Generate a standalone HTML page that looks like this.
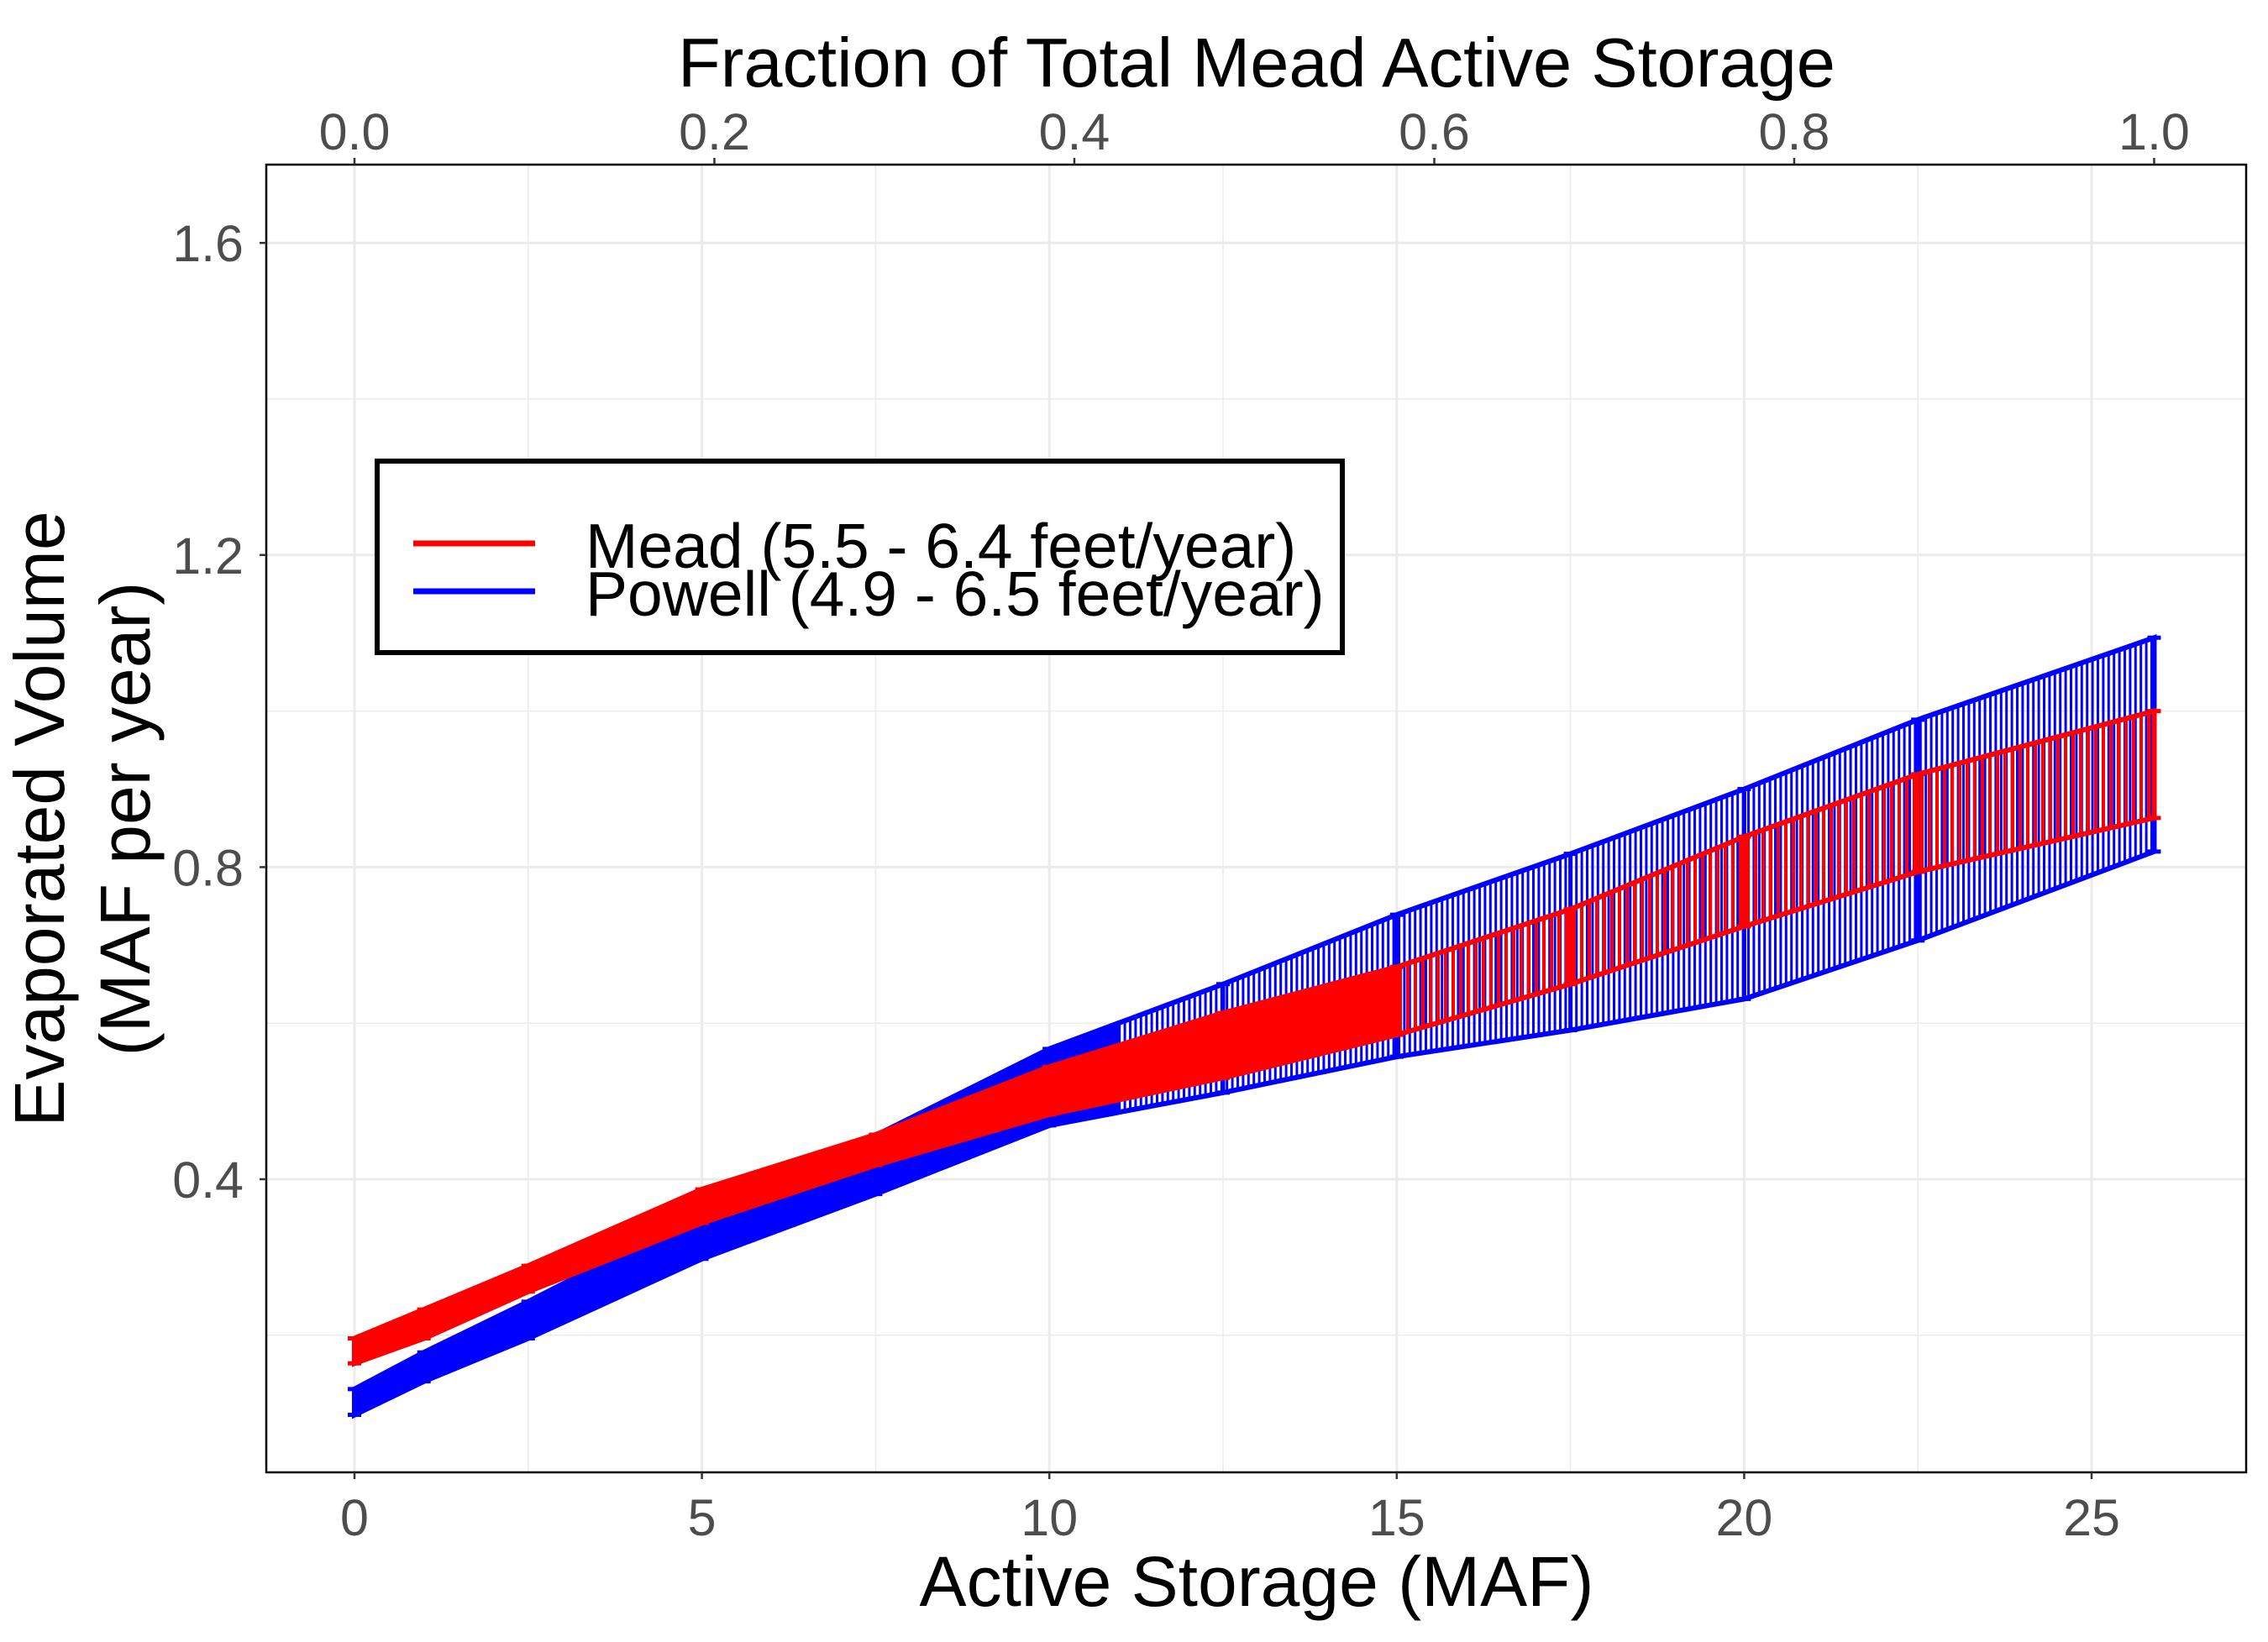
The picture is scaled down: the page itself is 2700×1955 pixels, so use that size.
<!DOCTYPE html>
<html><head><meta charset="utf-8"><style>
body{margin:0;background:#fff}
text{font-family:"Liberation Sans",sans-serif}
</style></head><body>
<svg id="chart" width="2700" height="1950" xmlns="http://www.w3.org/2000/svg">
<defs>
<pattern id="pb" patternUnits="userSpaceOnUse" width="6.4" height="10"><rect x="0" y="0" width="3" height="10" fill="#0000ff"/></pattern>
<pattern id="pr" patternUnits="userSpaceOnUse" width="9" height="10"><rect x="0" y="0" width="4" height="10" fill="#ff0000"/></pattern>
<clipPath id="panel"><rect x="317" y="196" width="2357" height="1557"/></clipPath>
</defs>
<rect x="0" y="0" width="2700" height="1950" fill="#fff"/>
<g id="grid"></g>
<g id="series" clip-path="url(#panel)"></g>
<rect x="317" y="196" width="2357" height="1557" fill="none" stroke="#000" stroke-width="2.5"/>
<g id="axes"></g>
<text x="1496" y="103" font-size="83" text-anchor="middle" fill="#000">Fraction of Total Mead Active Storage</text>
<text x="1496" y="1912" font-size="84" text-anchor="middle" fill="#000">Active Storage (MAF)</text>
<text transform="translate(76,975) rotate(-90)" font-size="84" text-anchor="middle" fill="#000">Evaporated Volume</text>
<text transform="translate(178,975) rotate(-90)" font-size="84" text-anchor="middle" fill="#000">(MAF per year)</text>
<g>
<rect x="449" y="549" width="1149" height="228" fill="#fff" stroke="#000" stroke-width="6"/>
<line x1="492" y1="647" x2="637" y2="647" stroke="#ff0000" stroke-width="7"/>
<line x1="492" y1="704" x2="637" y2="704" stroke="#0000ff" stroke-width="7"/>
<text x="697" y="676" font-size="75" fill="#000">Mead (5.5 - 6.4 feet/year)</text>
<text x="697" y="733" font-size="75" fill="#000">Powell (4.9 - 6.5 feet/year)</text>
</g>
</svg>
<script>
const storage = [0, 1, 2.5, 5, 7.5, 10, 12.5, 15, 17.5, 20, 22.5, 25.9];
const meadLower = [0.164, 0.196, 0.256, 0.344, 0.418, 0.483, 0.53, 0.585, 0.65, 0.724, 0.794, 0.863];
const meadUpper = [0.196, 0.233, 0.289, 0.387, 0.457, 0.544, 0.613, 0.672, 0.746, 0.839, 0.919, 1.0];
const powellLower = [0.098, 0.141, 0.196, 0.298, 0.381, 0.469, 0.511, 0.557, 0.591, 0.631, 0.706, 0.82];
const powellUpper = [0.131, 0.178, 0.243, 0.357, 0.456, 0.567, 0.65, 0.739, 0.817, 0.9, 0.989, 1.094];
const xTicks = [0, 5, 10, 15, 20, 25];
const xMinor = [2.5, 7.5, 12.5, 17.5, 22.5];
const yTicks = [0.4, 0.8, 1.2, 1.6];
const yMinor = [0.2, 0.6, 1.0, 1.4];
const fracTicks = [0, 0.2, 0.4, 0.6, 0.8, 1.0];
const totalMead = 25.9;

const NS = "http://www.w3.org/2000/svg";
const X = v => 422 + (v) * 82.72;
const Y = v => 1404 - (v - 0.4) * 929;
function mk(tag, attrs, parent) {
  const e = document.createElementNS(NS, tag);
  for (const k in attrs) e.setAttribute(k, attrs[k]);
  parent.appendChild(e);
  return e;
}
const grid = document.getElementById('grid');
const axes = document.getElementById('axes');
const series = document.getElementById('series');

xMinor.forEach(v => { const l = mk('line', {x1: X(v), x2: X(v), y1: 196, y2: 1753, stroke: '#ebebeb', 'stroke-width': 1.5}, grid);
  
   });
yMinor.forEach(v => { const l = mk('line', {x1: 317, x2: 2674, y1: Y(v), y2: Y(v), stroke: '#ebebeb', 'stroke-width': 1.5}, grid);
  
   });
xTicks.forEach(v => {
  const l = mk('line', {x1: X(v), x2: X(v), y1: 196, y2: 1753, stroke: '#ebebeb', 'stroke-width': 3}, grid);
  
  
  const t = mk('line', {x1: X(v), x2: X(v), y1: 1753, y2: 1761, stroke: '#333', 'stroke-width': 2.5}, axes);
  
  
  const tx = mk('text', {x: X(v), y: 1828, 'font-size': 61, 'text-anchor': 'middle', fill: '#4d4d4d'}, axes);
  tx.textContent = String(v);
  
  
});
yTicks.forEach(v => {
  const l = mk('line', {x1: 317, x2: 2674, y1: Y(v), y2: Y(v), stroke: '#ebebeb', 'stroke-width': 3}, grid);
  
  
  const t = mk('line', {x1: 309, x2: 317, y1: Y(v), y2: Y(v), stroke: '#333', 'stroke-width': 2.5}, axes);
  
  
  const tx = mk('text', {x: 290, y: Y(v) + 22, 'font-size': 61, 'text-anchor': 'end', fill: '#4d4d4d'}, axes);
  tx.textContent = v.toFixed(1);
  
  
});
fracTicks.forEach(v => {
  const x = X(v * totalMead);
  const t = mk('line', {x1: x, x2: x, y1: 188, y2: 196, stroke: '#333', 'stroke-width': 2.5}, axes);
  
  
  const tx = mk('text', {x: x, y: 178, 'font-size': 61, 'text-anchor': 'middle', fill: '#4d4d4d'}, axes);
  tx.textContent = v.toFixed(1);
  
  
});

function band(lower, upper, color, pat, solidUntil, name) {
  const g = mk('g', {}, series);
  
  
  let pts = storage.map((s, i) => X(s) + ',' + Y(upper[i]));
  pts = pts.concat(storage.map((s, i) => X(s) + ',' + Y(lower[i])).reverse());
  const cid = 'c' + name;
  const cp = mk('clipPath', {id: cid}, g);
  mk('rect', {x: 0, y: 0, width: X(solidUntil), height: 1950}, cp);
  const striped = mk('polygon', {points: pts.join(' '), fill: 'url(#' + pat + ')', stroke: color, 'stroke-width': 6}, g);
  
  
  const solid = mk('polygon', {points: pts.join(' '), fill: color, stroke: color, 'stroke-width': 6, 'clip-path': 'url(#' + cid + ')'}, g);
  
  
  storage.forEach((s, i) => {
    const b = mk('path', {d: 'M' + (X(s) - 8) + ',' + Y(upper[i]) + 'h16M' + X(s) + ',' + Y(upper[i]) + 'V' + Y(lower[i]) + 'M' + (X(s) - 8) + ',' + Y(lower[i]) + 'h16', stroke: color, 'stroke-width': 5, fill: 'none'}, g);
    
    
  });
}
band(powellLower, powellUpper, '#0000ff', 'pb', 11, 'powell');
band(meadLower, meadUpper, '#ff0000', 'pr', 15, 'mead');
</script>
</body></html>
